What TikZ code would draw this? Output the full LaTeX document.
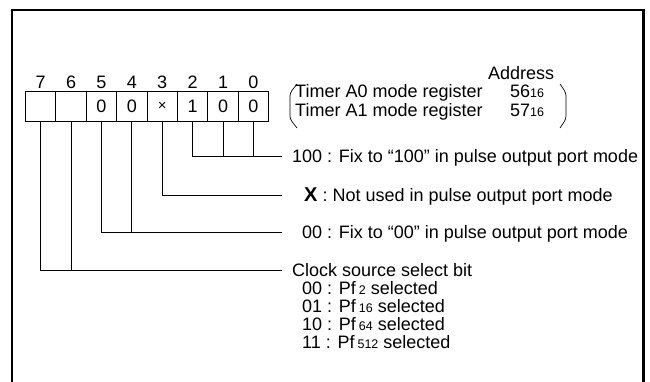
\documentclass[tikz,border=0pt]{standalone}
\usepackage{fontspec}
\setmainfont{Liberation Sans}
\newcommand\subsm[1]{{\fontsize{12.5}{12.5}\selectfont #1}}
\begin{document}
\begin{tikzpicture}[x=1pt,y=-1pt,
  txt/.style={font=\fontsize{18}{19}\selectfont,inner sep=0pt},
  cell/.style={draw,line width=0.9pt,minimum width=30.4pt,minimum height=30pt,inner sep=0pt,anchor=north west,font=\fontsize{18}{19}\selectfont},
  lbl/.style={txt,anchor=base west},
  conn/.style={line width=0.9pt},
  frame/.style={line width=2.5pt},
  paren/.style={line width=0.7pt,rounded corners=3pt},
]
\useasboundingbox (0,0) rectangle (650,381);
\draw[frame] (12,390) -- (12,10) -- (643.5,10) -- (643.5,390);
% register cells
\node[cell] (c7) at (25,91) {};
\node[cell] (c6) at (55.4,91) {};
\node[cell] (c5) at (85.8,91) {0};
\node[cell] (c4) at (116.2,91) {0};
\node[cell] (c3) at (146.6,91) {\fontsize{15}{15}\selectfont ×};
\node[cell] (c2) at (177,91) {1};
\node[cell] (c1) at (207.4,91) {0};
\node[cell] (c0) at (237.8,91) {0};
% bit numbers
\foreach \b in {7,...,0}{\node[txt] (b\b) at ([yshift=24pt]c\b.center) {\b};}
% address block
\node[lbl] (addr) at (488,79) {Address};
\node[lbl] (ta0) at (295,97) {Timer A0 mode register};
\node[lbl] (ta1) at (295,116) {Timer A1 mode register};
\node[lbl] (ad0) at (510,97) {56\subsm{16}};
\node[lbl] (ad1) at (510,116) {57\subsm{16}};
\draw[paren] (297,84) -- (290,93) -- (290,119) -- (297,128);
\draw[paren] (560,84) -- (566,93) -- (566,119) -- (560,128);
% connector ends
\coordinate (e100) at (282,156);
\coordinate (ex) at (282,195.5);
\coordinate (e00) at (282,232);
\coordinate (eclk) at (282,270);
\draw[conn] (c2.south) |- (e100);
\draw[conn] (c1.south) -- (c1.south |- e100);
\draw[conn] (c0.south) -- (c0.south |- e100);
\draw[conn] (c3.south) |- (ex);
\draw[conn] (c5.south) |- (e00);
\draw[conn] (c4.south) -- (c4.south |- e00);
\draw[conn] (c7.south) |- (eclk);
\draw[conn] (c6.south) -- (c6.south |- eclk);
% descriptions
\node[lbl] (t100) at (292,162) {100 : Fix to “100” in pulse output port mode};
\node[lbl] (tx) at (304,201) {{\fontsize{20}{20}\selectfont\bfseries X} : Not used in pulse output port mode};
\node[lbl] (t00) at (302,238) {00 : Fix to “00” in pulse output port mode};
\node[lbl] (tclk) at (292,276) {Clock source select bit};
\node[lbl] (s0) at (302,294) {00 : Pf\,\subsm{2} selected};
\node[lbl] (s1) at (302,312) {01 : Pf\,\subsm{16} selected};
\node[lbl] (s2) at (302,330) {10 : Pf\,\subsm{64} selected};
\node[lbl] (s3) at (302,348) {11 : Pf\,\subsm{512} selected};
\end{tikzpicture}
\end{document}
